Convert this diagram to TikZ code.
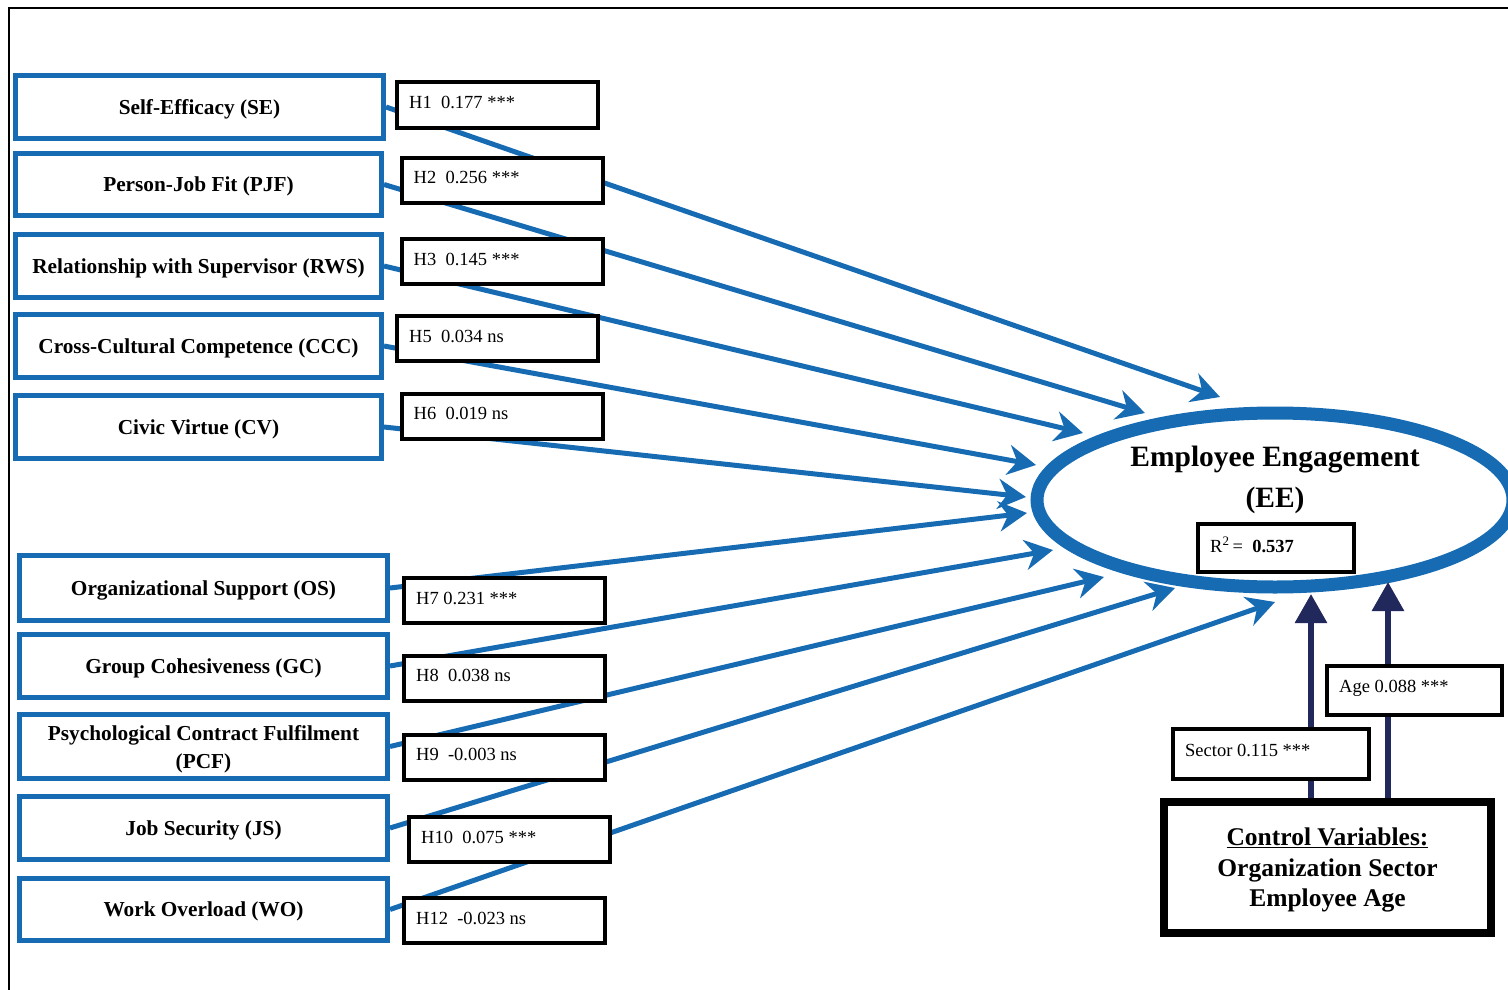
\documentclass[tikz,border=0pt]{standalone}
\usepackage{fontspec}
\setmainfont{Liberation Serif}
\usetikzlibrary{arrows.meta,shapes.geometric}
\definecolor{eblue}{RGB}{22,107,178}
\definecolor{navy}{RGB}{33,40,92}

\begin{document}
\begin{tikzpicture}[x=1pt,y=-1pt,
  varbox/.style={draw=eblue, line width=5pt, fill=white, inner sep=0pt, align=center,
                 text depth=0pt, font=\bfseries\fontsize{21.3}{28}\selectfont},
  hbox/.style={draw=black, line width=4pt, fill=white, inner sep=0pt,
               minimum width=201pt, minimum height=45pt},
  htext/.style={anchor=base west, inner sep=0pt, font=\fontsize{18.5}{22}\selectfont},
  effect/.style={draw=eblue, line width=5pt, -{Stealth[length=28pt,width=30pt,inset=9pt]}},
  control/.style={draw=navy, line width=6pt, -{Triangle[length=29pt,width=31pt]}},
]
\useasboundingbox (0,0) rectangle (1508,990);
\clip (0,0) rectangle (1508,990);

% outer frame (left and top edges)
\draw[line width=2.5pt] (9,995) -- (9,8) -- (1515,8);

% outcome construct
\node[ellipse, draw=eblue, line width=13pt, minimum width=476pt, minimum height=174pt,
      inner sep=0pt] (ee) at (1275,500) {};

% predictor constructs
\node[varbox, minimum width=368pt, minimum height=63pt] (se)  at (199.5,107)   {Self-Efficacy (SE)};
\node[varbox, minimum width=366pt, minimum height=62pt] (pjf) at (198.5,184.5) {Person-Job Fit (PJF)};
\node[varbox, minimum width=366pt, minimum height=63pt] (rws) at (198.5,266)   {Relationship with Supervisor (RWS)};
\node[varbox, minimum width=366pt, minimum height=63pt] (ccc) at (198.5,346)   {Cross-Cultural Competence (CCC)};
\node[varbox, minimum width=366pt, minimum height=63pt] (cv)  at (198.5,427)   {Civic Virtue (CV)};
\node[varbox, minimum width=368pt, minimum height=65pt] (os)  at (203.5,588)   {Organizational Support (OS)};
\node[varbox, minimum width=368pt, minimum height=63pt] (gc)  at (203.5,666)   {Group Cohesiveness (GC)};
\node[varbox, minimum width=368pt, minimum height=64pt] (pcf) at (203.5,746.5) {Psychological Contract Fulfilment\\(PCF)};
\node[varbox, minimum width=368pt, minimum height=63pt] (js)  at (203.5,828)   {Job Security (JS)};
\node[varbox, minimum width=368pt, minimum height=62pt] (wo)  at (203.5,909.5) {Work Overload (WO)};

% arrow tips at the outcome
\coordinate (tSE)  at (1220,397);
\coordinate (tPJF) at (1145,413);
\coordinate (tRWS) at (1083,433);
\coordinate (tCCC) at (1036,465);
\coordinate (tCV)  at (1026,497);
\coordinate (tOS)  at (1027,513);
\coordinate (tGC)  at (1053,550);
\coordinate (tPCF) at (1104,577);
\coordinate (tJS)  at (1175,588);
\coordinate (tWO)  at (1275,602);

% structural paths
\draw[effect] (se.east)  -- (tSE);
\draw[effect] (pjf.east) -- (tPJF);
\draw[effect] (rws.east) -- (tRWS);
\draw[effect] (ccc.east) -- (tCCC);
\draw[effect] (cv.east)  -- (tCV);
\draw[effect] (os.east)  -- (tOS);
\draw[effect] (gc.east)  -- (tGC);
\draw[effect] (pcf.east) -- (tPCF);
\draw[effect] (js.east)  -- (tJS);
\draw[effect] (wo.east)  -- (tWO);

% path coefficients
\node[hbox] (h1)  at (497.5,105)   {};
\node[hbox] (h2)  at (502,180)     {};
\node[hbox] (h3)  at (502,261.5)   {};
\node[hbox] (h5)  at (497.5,338.5) {};
\node[hbox] (h6)  at (502,416)     {};
\node[hbox] (h7)  at (504.5,600.5) {};
\node[hbox] (h8)  at (504.5,678)   {};
\node[hbox] (h9)  at (504.5,757)   {};
\node[hbox] (h10) at (509.5,839.5) {};
\node[hbox] (h12) at (504.5,920.5) {};
\node[htext] at ([xshift=14pt,yshift=-28pt]h1.north west)  {H1\ \ 0.177 ***};
\node[htext] at ([xshift=14pt,yshift=-28pt]h2.north west)  {H2\ \ 0.256 ***};
\node[htext] at ([xshift=14pt,yshift=-28pt]h3.north west)  {H3\ \ 0.145 ***};
\node[htext] at ([xshift=14pt,yshift=-28pt]h5.north west)  {H5\ \ 0.034 ns};
\node[htext] at ([xshift=14pt,yshift=-28pt]h6.north west)  {H6\ \ 0.019 ns};
\node[htext] at ([xshift=14pt,yshift=-28pt]h7.north west)  {H7 0.231 ***};
\node[htext] at ([xshift=14pt,yshift=-28pt]h8.north west)  {H8\ \ 0.038 ns};
\node[htext] at ([xshift=14pt,yshift=-28pt]h9.north west)  {H9\ \ -0.003 ns};
\node[htext] at ([xshift=14pt,yshift=-28pt]h10.north west) {H10\ \ 0.075 ***};
\node[htext] at ([xshift=14pt,yshift=-28pt]h12.north west) {H12\ \ -0.023 ns};

% control variables
\node[draw=black, line width=8pt, fill=white, minimum width=327pt, minimum height=131pt,
      inner sep=0pt, align=center, text depth=0pt, font=\bfseries\fontsize{25.5}{30.5}\selectfont]
      (ctrl) at (1327.5,867.5) {\underline{Control Variables:}\\Organization Sector\\Employee Age};
\coordinate (secTip) at (1311,594);
\coordinate (ageTip) at (1388,582);
\draw[control] (secTip |- ctrl.north) -- (secTip);
\draw[control] (ageTip |- ctrl.north) -- (ageTip);
\node[draw=black, line width=4pt, fill=white, minimum width=196pt, minimum height=50pt,
      inner sep=0pt] (sec) at (1271,754) {};
\node[draw=black, line width=4pt, fill=white, minimum width=175pt, minimum height=49pt,
      inner sep=0pt] (age) at (1414.5,690.5) {};
\node[htext] at ([xshift=14pt,yshift=-29pt]sec.north west) {Sector 0.115 ***};
\node[htext] at ([xshift=14pt,yshift=-28pt]age.north west) {Age 0.088 ***};

% outcome label and explained variance
\node[font=\bfseries\fontsize{29.5}{41}\selectfont, align=center, inner sep=0pt, text depth=0pt]
      (eelabel) at (1275,477) {Employee Engagement\\(EE)};
\node[draw=black, line width=4pt, fill=white, minimum width=156pt, minimum height=48pt,
      inner sep=0pt] (r2) at (1276,548) {};
\node[htext] at ([xshift=14pt,yshift=-30pt]r2.north west) {R\textsuperscript{2}\,=\ \ \textbf{0.537}};
\end{tikzpicture}
\end{document}
